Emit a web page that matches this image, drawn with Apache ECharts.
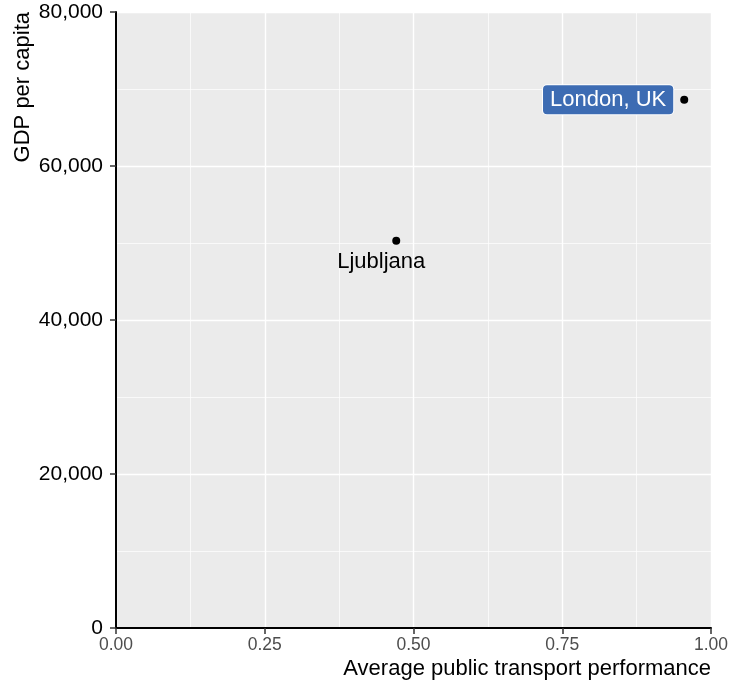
<!DOCTYPE html>
<html>
<head>
<meta charset="utf-8">
<script src="https://cdn.jsdelivr.net/npm/echarts@6/dist/echarts.min.js"></script>
<style>
html,body{margin:0;padding:0;background:#fff;}
#chart{width:742px;height:683px;}
</style>
</head>
<body>
<div id="chart"></div>
<script>
const cities = ['London, UK', 'Ljubljana'];
const transportPerf = [0.955, 0.471];
const gdpPerCapita = [68600, 50300];
const xTicks = [0, 0.25, 0.5, 0.75, 1];
const yTicks = [0, 20000, 40000, 60000, 80000];

const FONT = '"Liberation Sans", Arial, sans-serif';
const chart = echarts.init(document.getElementById('chart'));

const labelStyles = [
  {
    show: true, position: 'left', distance: 7,
    formatter: '{b}', color: '#fff', fontSize: 22, fontFamily: FONT,
    backgroundColor: '#3D6CB3', borderColor: '#fff', borderWidth: 1,
    borderRadius: 4, padding: [4, 7, 3, 7]
  },
  {
    show: true, position: 'bottom', distance: 6, offset: [-15, 0],
    formatter: '{b}', color: '#000', fontSize: 22, fontFamily: FONT
  }
];

const data = cities.map((c, i) => ({
  name: c,
  value: [transportPerf[i], gdpPerCapita[i]],
  label: labelStyles[i]
}));

chart.setOption({
  animation: false,
  backgroundColor: '#fff',
  grid: {
    left: 116, right: 31, top: 12, bottom: 55,
    show: true, backgroundColor: '#EBEBEB', borderWidth: 0
  },
  xAxis: {
    type: 'value', min: xTicks[0], max: xTicks[xTicks.length - 1], interval: 0.25,
    name: 'Average public transport performance',
    nameLocation: 'end', nameGap: 0,
    nameTextStyle: { fontSize: 22, color: '#000', fontFamily: FONT, align: 'right', verticalAlign: 'top', padding: [30, 0, 0, 0] },
    axisLine: { show: true, onZero: false, lineStyle: { color: '#000', width: 2 } },
    axisTick: { show: true, length: 6, lineStyle: { color: '#333', width: 1.5 } },
    axisLabel: { color: '#4D4D4D', fontSize: 17.5, fontFamily: FONT, margin: 8, formatter: v => v.toFixed(2) },
    splitLine: { show: true, lineStyle: { color: '#fff', width: 1.4 } },
    minorTick: { show: false, splitNumber: 2 },
    minorSplitLine: { show: true, lineStyle: { color: '#fff', width: 0.7 } }
  },
  yAxis: {
    type: 'value', min: yTicks[0], max: yTicks[yTicks.length - 1], interval: 20000,
    name: 'GDP per capita',
    nameLocation: 'end', nameGap: 0, nameRotate: 90,
    nameTextStyle: { fontSize: 22, color: '#000', fontFamily: FONT, align: 'right', verticalAlign: 'bottom', padding: [0, 0, 82, 0] },
    axisLine: { show: true, onZero: false, lineStyle: { color: '#000', width: 2 } },
    axisTick: { show: true, length: 6, lineStyle: { color: '#333', width: 1.5 } },
    axisLabel: { color: '#000', fontSize: 21, fontFamily: FONT, margin: 13, formatter: v => v.toLocaleString('en-US') },
    splitLine: { show: true, lineStyle: { color: '#fff', width: 1.4 } },
    minorTick: { show: false, splitNumber: 2 },
    minorSplitLine: { show: true, lineStyle: { color: '#fff', width: 0.7 } }
  },
  series: [{
    type: 'scatter',
    symbolSize: 8,
    itemStyle: { color: '#000', opacity: 1 },
    data: data
  }]
});
</script>
</body>
</html>
